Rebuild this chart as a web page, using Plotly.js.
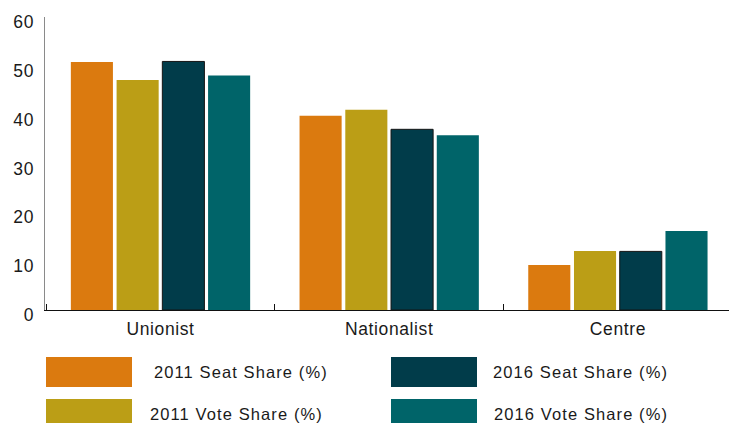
<!DOCTYPE html>
<html>
<head>
<meta charset="utf-8">
<script src="https://cdn.plot.ly/plotly-3.0.1.min.js"></script>
<style>
  html, body { margin: 0; padding: 0; background: #fff; }
  #chart { width: 729px; height: 423px; }
  .xtick text, .ytick text { letter-spacing: 0.6px; }
  .annotation-text { letter-spacing: 1.1px; }
</style>
</head>
<body>
<div id="chart"></div>
<script>
// ---- data ----
const categories = ['Unionist', 'Nationalist', 'Centre'];
const seat2011 = [50.8, 39.8, 9.2];
const vote2011 = [47.1, 41.0, 12.1];
const seat2016 = [50.9, 37.0, 12.0];
const vote2016 = [48.0, 35.8, 16.2];
const seriesNames = ['2011 Seat Share (%)', '2011 Vote Share (%)', '2016 Seat Share (%)', '2016 Vote Share (%)'];
const yTickVals = [0, 10, 20, 30, 40, 50, 60];

// ---- styles ----
const colors = ['#DB7A0F', '#BB9E16', '#013C4A', '#006469'];
const outline = [0, 0, 1, 0];
const FONT = '"Liberation Sans", Arial, Helvetica, sans-serif';

const W = 729, H = 423;
const M = { l: 45, r: 0, t: 17, b: 113 };
const plotW = W - M.l - M.r, plotH = H - M.t - M.b;
const px2x = px => (px - M.l) / plotW;
const py2y = py => (H - M.b - py) / plotH;

const seriesValues = [seat2011, vote2011, seat2016, vote2016];
const traces = seriesValues.map((vals, i) => ({
  type: 'bar',
  x: categories,
  y: vals,
  name: seriesNames[i],
  marker: { color: colors[i], line: { color: '#151515', width: outline[i] } },
  showlegend: false,
  hoverinfo: 'x+y+name'
}));

// custom legend (large swatches)
const swatchX = [[46, 132], [391, 477]];
const swatchY = [[357, 387], [399, 429]];
const textX = [[152, 491], [148, 492]]; // [row][col]
const textY = [372, 414];
const shapes = [];
const annotations = [];
seriesNames.forEach((name, i) => {
  const col = Math.floor(i / 2), row = i % 2;
  shapes.push({
    type: 'rect', xref: 'paper', yref: 'paper',
    x0: px2x(swatchX[col][0]), x1: px2x(swatchX[col][1]),
    y0: py2y(swatchY[row][1]), y1: py2y(swatchY[row][0]),
    fillcolor: colors[i], line: { width: 0 }
  });
  annotations.push({
    xref: 'paper', yref: 'paper',
    x: px2x(textX[row][col]), y: py2y(textY[row]),
    xanchor: 'left', yanchor: 'middle',
    text: name, showarrow: false,
    font: { family: FONT, size: 16.5, color: '#1a1a1a' }
  });
});

const catW = 228.7;
const layout = {
  width: W, height: H,
  margin: M,
  paper_bgcolor: '#fff', plot_bgcolor: '#fff',
  barmode: 'group',
  bargap: 0.2,
  bargroupgap: 0.08,
  font: { family: FONT, color: '#1a1a1a' },
  xaxis: {
    type: 'category',
    range: [-(160.5 - M.l) / catW, -(160.5 - M.l) / catW + plotW / catW],
    showline: true, linecolor: '#111', linewidth: 1.3,
    ticks: 'inside', tickson: 'boundaries', ticklen: 6, tickcolor: '#111', tickwidth: 1.2,
    tickfont: { family: FONT, size: 17.5, color: '#1a1a1a' },
    ticklabelstandoff: 3,
    showgrid: false, zeroline: false, fixedrange: true
  },
  yaxis: {
    range: [0, 60],
    tickmode: 'array', tickvals: yTickVals, ticktext: yTickVals.map(String),
    showline: true, linecolor: '#8a8a8a', linewidth: 1.5,
    ticks: '', showgrid: false, zeroline: false,
    tickfont: { family: FONT, size: 17.5, color: '#1a1a1a' },
    ticklabelstandoff: 6,
    ticklabelshift: 5,
    fixedrange: true
  },
  shapes: shapes,
  annotations: annotations
};

Plotly.newPlot('chart', traces, layout, { displayModeBar: false, staticPlot: true });
</script>
</body>
</html>
